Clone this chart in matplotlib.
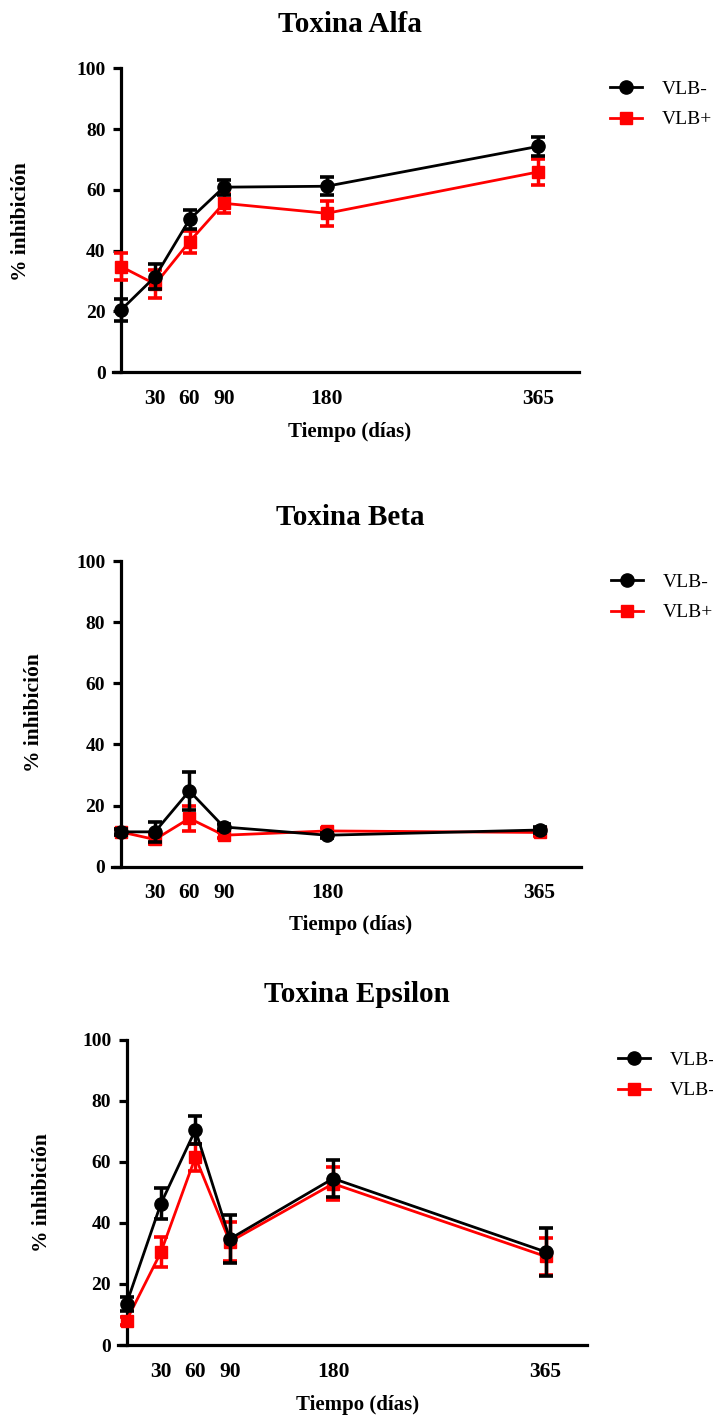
import matplotlib
matplotlib.use("Agg")
import matplotlib.pyplot as plt

plt.rcParams['font.family'] = ['Liberation Serif', 'DejaVu Serif']

days = [0, 30, 60, 90, 180, 365]
xtick_labels = ["30", "60", "90", "180", "365"]
xticks = [30, 60, 90, 180, 365]
yticks = [0, 20, 40, 60, 80, 100]

titles = ["Toxina Alfa", "Toxina Beta", "Toxina Epsilon"]
legend_labels = [["VLB-", "VLB+"], ["VLB-", "VLB+"], ["VLB-", "VLB-"]]

alfa_neg = [20.5, 31.5, 50.3, 60.9, 61.2, 74.3]
alfa_neg_err = [3.5, 4.2, 3.0, 2.5, 3.0, 3.0]
alfa_pos = [34.8, 29.0, 43.0, 55.6, 52.3, 65.9]
alfa_pos_err = [4.3, 4.5, 3.6, 3.2, 4.2, 4.3]

beta_neg = [11.4, 11.4, 24.8, 13.0, 10.3, 12.0]
beta_neg_err = [1.0, 3.2, 6.3, 1.0, 0.8, 1.0]
beta_pos = [11.4, 8.9, 15.8, 10.3, 11.7, 11.2]
beta_pos_err = [1.0, 1.5, 4.0, 1.0, 1.0, 1.0]

eps_neg = [13.5, 46.3, 70.4, 34.7, 54.5, 30.5]
eps_neg_err = [2.3, 5.0, 4.5, 7.8, 6.0, 7.9]
eps_pos = [8.0, 30.4, 61.5, 33.8, 52.8, 29.0]
eps_pos_err = [1.3, 5.0, 4.4, 6.3, 5.4, 6.0]

series = [
    (alfa_neg, alfa_neg_err, alfa_pos, alfa_pos_err),
    (beta_neg, beta_neg_err, beta_pos, beta_pos_err),
    (eps_neg, eps_neg_err, eps_pos, eps_pos_err),
]

W, H = 713, 1418
fig = plt.figure(figsize=(W / 100, H / 100), dpi=100)

# layout per panel: (x px of day 0, px per day, y px of 100, y px of 0)
layout = [
    (121.0, 1.1425, 68.3, 372.3),
    (120.5, 1.148, 561.0, 866.7),
    (126.5, 1.148, 1039.5, 1345.0),
]
xmin, xmax = -7.3, 401.0
title_pos = [(350, 32), (350, 525), (357, 1002)]
xlabel_pos = [(350, 432), (351, 925), (358, 1405)]
ylabel_pos = [(21, 222), (34, 713), (42, 1193)]
legend_pos = [(610, 104.5), (611, 597.5), (618, 1075.5)]

for i in range(3):
    x0, ppd, ytop, ybot = layout[i]
    left = x0 + xmin * ppd
    right = x0 + xmax * ppd
    ax = fig.add_axes([left / W, 1 - ybot / H, (right - left) / W, (ybot - ytop) / H])
    neg, neg_e, pos, pos_e = series[i]
    c_pos = ax.errorbar(days, pos, yerr=pos_e, color='#ff0000', marker='s', ms=9,
                        lw=2.0, elinewidth=2.5, capsize=5, capthick=2.6, clip_on=False, zorder=3)
    c_neg = ax.errorbar(days, neg, yerr=neg_e, color='black', marker='o', ms=9.5,
                        lw=2.0, elinewidth=2.5, capsize=5, capthick=2.6, clip_on=False, zorder=4)
    ax.set_xlim(xmin, xmax)
    ax.set_ylim(0, 100)
    for s in ['top', 'right']:
        ax.spines[s].set_visible(False)
    ax.spines['left'].set_position(('data', 0))
    ax.spines['left'].set_linewidth(2.3)
    ax.spines['bottom'].set_linewidth(2.3)
    ax.set_xticks(xticks)
    ax.set_xticklabels(xtick_labels)
    ax.set_yticks(yticks)
    ax.tick_params(axis='x', length=0, pad=12, labelsize=15.5)
    ax.tick_params(axis='y', length=6, width=2.3, pad=5, labelsize=14)
    for lab in ax.get_xticklabels() + ax.get_yticklabels():
        lab.set_fontweight('bold')

    tx, ty = title_pos[i]
    fig.text(tx / W, 1 - ty / H, titles[i], ha='center', va='baseline',
             fontsize=21, fontweight='bold')
    lx, ly = xlabel_pos[i]
    fig.text(lx / W, 1 - ly / H, "Tiempo (días)", ha='center', va='center',
             fontsize=15, fontweight='bold')
    yx, yy = ylabel_pos[i]
    fig.text(yx / W, 1 - yy / H, "% inhibición", ha='center', va='center',
             rotation=90, fontsize=15.5, fontweight='bold')

    gx, gy = legend_pos[i]
    ax.legend([c_neg.lines[0], c_pos.lines[0]], legend_labels[i],
              loc='center left', bbox_to_anchor=(gx / W, 1 - gy / H),
              bbox_transform=fig.transFigure, frameon=False, fontsize=14,
              handlelength=1.65, handletextpad=1.0, labelspacing=0.65,
              borderpad=0, borderaxespad=0)

fig.savefig("out.png", dpi=100)
